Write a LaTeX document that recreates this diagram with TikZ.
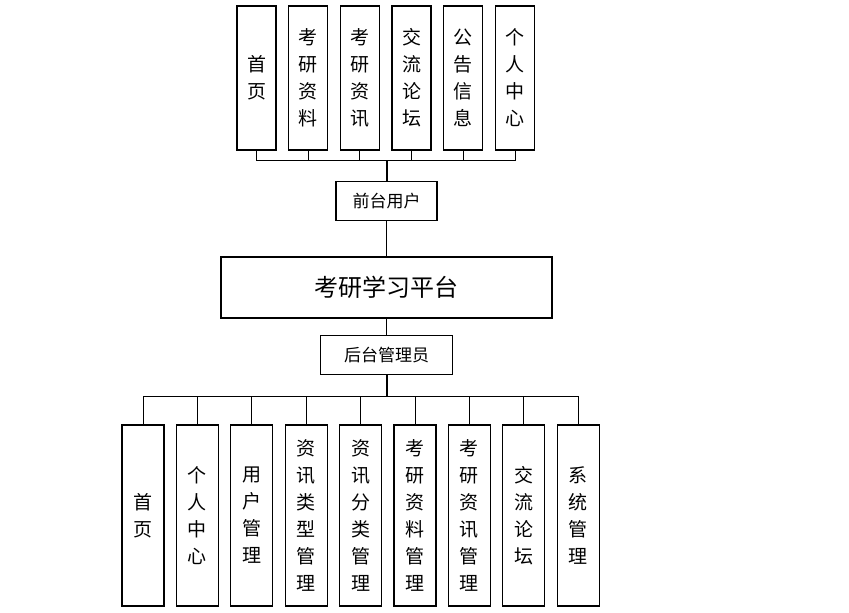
\documentclass[tikz,border=0pt]{standalone}
\usepackage{fontspec}
\newfontfamily\cjk{Noto Sans CJK SC}
\usetikzlibrary{positioning}

\begin{document}
\begin{tikzpicture}[
        x=1pt, y=-1pt,
        box/.style={rectangle, draw=black, line width=1.3pt, inner sep=0pt,
                    align=center, font=\cjk\fontsize{19}{27}\selectfont},
        topbox/.style={box, minimum width=39pt, minimum height=144pt},
        botbox/.style={box, minimum width=42pt, minimum height=181pt},
        rolebox/.style={box, minimum height=39pt, font=\cjk\fontsize{17}{20}\selectfont},
        link/.style={line width=1pt, black},
        trunk/.style={line width=2pt, black}
    ]
        \useasboundingbox (0,0) rectangle (849,613);

        % platform and the two roles
        \node[box, minimum width=331pt, minimum height=61pt,
              font=\cjk\fontsize{24}{28}\selectfont] (platform) at (386.5,287.5) {考研学习平台};
        \node[rolebox, minimum width=101pt, above=35pt of platform] (front) {前台用户};
        \node[rolebox, minimum width=132pt, below=16pt of platform] (back) {后台管理员};

        % front-end modules
        \node[topbox] (u1) at (256.5,78) {首\\页};
        \node[topbox, right=11.4pt of u1] (u2) {考\\研\\资\\料};
        \node[topbox, right=11.4pt of u2] (u3) {考\\研\\资\\讯};
        \node[topbox, right=11.4pt of u3] (u4) {交\\流\\论\\坛};
        \node[topbox, right=11.4pt of u4] (u5) {公\\告\\信\\息};
        \node[topbox, right=11.4pt of u5] (u6) {个\\人\\中\\心};

        % back-end modules
        \node[botbox] (d1) at (143,515.5) {首\\页};
        \node[botbox, right=11.1pt of d1] (d2) {个\\人\\中\\心};
        \node[botbox, right=11.1pt of d2] (d3) {用\\户\\管\\理};
        \node[botbox, right=11.1pt of d3] (d4) {资\\讯\\类\\型\\管\\理};
        \node[botbox, right=11.1pt of d4] (d5) {资\\讯\\分\\类\\管\\理};
        \node[botbox, right=11.1pt of d5] (d6) {考\\研\\资\\料\\管\\理};
        \node[botbox, right=11.1pt of d6] (d7) {考\\研\\资\\讯\\管\\理};
        \node[botbox, right=11.1pt of d7] (d8) {交\\流\\论\\坛};
        \node[botbox, right=11.1pt of d8] (d9) {系\\统\\管\\理};

        % connectors
        \draw[trunk] (front.north) -- ++(0,-21) coordinate (ubus);
        \foreach \i in {1,...,6}
            \draw[link] (u\i.south) |- (ubus);
        \draw[link] (front) -- (platform);
        \draw[link] (platform) -- (back);
        \draw[trunk] (back.south) -- ++(0,22) coordinate (dbus);
        \foreach \i in {1,...,9}
            \draw[link] (d\i.north) |- (dbus);
    \end{tikzpicture}
\end{document}
